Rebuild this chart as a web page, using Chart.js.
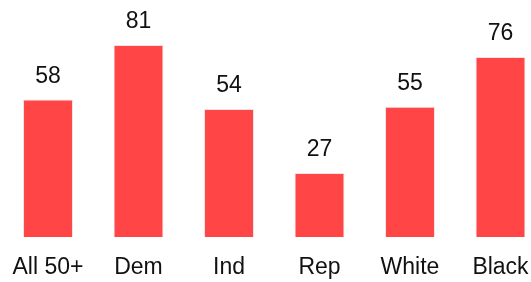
<!DOCTYPE html>
<html>
<head>
<meta charset="utf-8">
<script src="https://cdn.jsdelivr.net/npm/chart.js@4.4.0/dist/chart.umd.min.js"></script>
<style>
  html, body { margin: 0; padding: 0; background: #fff; }
  #wrap { width: 531px; height: 282px; }
</style>
</head>
<body>
<div id="wrap"><canvas id="chart" width="531" height="282"></canvas></div>
<script>
const categories = ['All 50+', 'Dem', 'Ind', 'Rep', 'White', 'Black'];
const values = [58, 81, 54, 27, 55, 76];

// value labels above each bar
const valueLabels = {
    id: 'valueLabels',
    afterDatasetsDraw(chart) {
        const ctx = chart.ctx;
        const meta = chart.getDatasetMeta(0);
        ctx.save();
        ctx.font = '23px "Liberation Sans", Arial, sans-serif';
        ctx.fillStyle = '#111';
        ctx.textAlign = 'center';
        ctx.textBaseline = 'alphabetic';
        meta.data.forEach((bar, i) => {
            ctx.fillText(String(values[i]), bar.x, bar.y - 17);
        });
        ctx.restore();
    }
};

new Chart(document.getElementById('chart').getContext('2d'), {
    type: 'bar',
    data: {
        labels: categories,
        datasets: [{
            data: values,
            backgroundColor: '#ff4545',
            borderColor: '#efe3e3',
            borderWidth: 1,
            categoryPercentage: 1,
            barPercentage: 0.552,
            clip: false
        }]
    },
    options: {
        responsive: false,
        animation: false,
        layout: { padding: { left: 48, right: 30.5, top: 0, bottom: 0 } },
        plugins: { legend: { display: false }, tooltip: { enabled: false } },
        scales: {
            x: {
                offset: false,
                grid: { display: false, drawTicks: false },
                border: { display: false },
                afterFit(scale) {
                    scale.height = 45;
                    scale.paddingLeft = 0;
                    scale.paddingRight = 0;
                },
                ticks: {
                    color: '#111',
                    padding: 17,
                    maxRotation: 0,
                    autoSkip: false,
                    font: { family: '"Liberation Sans", Arial, sans-serif', size: 23 }
                }
            },
            y: {
                display: false,
                min: 0,
                max: 100
            }
        }
    },
    plugins: [valueLabels]
});
</script>
</body>
</html>
